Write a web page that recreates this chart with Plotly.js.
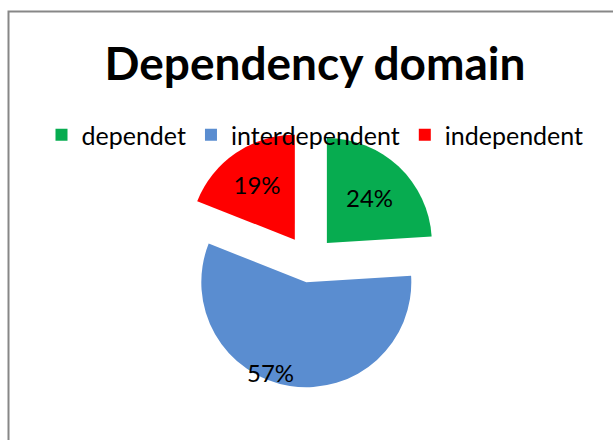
<!DOCTYPE html>
<html>
<head>
<meta charset="utf-8">
<script src="https://cdn.plot.ly/plotly-3.0.1.min.js"></script>
<style>html,body{margin:0;padding:0;background:#fff;}#chart{width:613px;height:440px;}</style>
</head>
<body>
<div id="chart"></div>
<script>
const categories = ["dependet", "interdependent", "independent"];
const values = [24, 57, 19];
const sliceColors = ["#07AC50", "#5A8DD0", "#FF0000"];
const pulls = [0.24, 0.2, 0.25];
const chartTitle = "Dependency domain";

const total = values.reduce((a, b) => a + b, 0);
const pctText = values.map(v => Math.round(100 * v / total) + "%");
// the large slice's label is drawn near its lower rim, as in the original
const insideTexts = pctText.map((t, i) => (i === 1 ? "" : t));

const trace = {
  type: "pie",
  labels: categories,
  values: values,
  sort: false,
  direction: "clockwise",
  rotation: 0,
  pull: pulls,
  marker: {colors: sliceColors, line: {width: 0}},
  text: insideTexts,
  textinfo: "text",
  textposition: "inside",
  insidetextorientation: "horizontal",
  textfont: {family: "Lato, sans-serif", size: 24, color: "#000"},
  hoverinfo: "label+percent",
  domain: {x: [0.2909, 0.7192], y: [0.1074, 0.7040]}
};

const layout = {
  width: 613, height: 440,
  margin: {l: 0, r: 0, t: 0, b: 0},
  paper_bgcolor: "#ffffff",
  title: {
    text: "<b>" + chartTitle + "</b>",
    font: {family: "Lato, sans-serif", size: 46, color: "#000"},
    x: 315 / 613, xanchor: "center", xref: "paper",
    y: 1 - 64 / 440, yanchor: "middle", yref: "container"
  },
  showlegend: true,
  legend: {
    orientation: "h",
    x: 315 / 613, xanchor: "center",
    y: 1 - 135 / 440, yanchor: "middle",
    font: {family: "Lato, sans-serif", size: 25, color: "#000"},
    bgcolor: "rgba(0,0,0,0)",
    traceorder: "normal"
  },
  annotations: [{
    text: pctText[1], xref: "paper", yref: "paper",
    x: 270 / 613, y: 1 - 372 / 440, xanchor: "center", yanchor: "middle",
    showarrow: false,
    font: {family: "Lato, sans-serif", size: 24, color: "#000"}
  }],
  shapes: [{
    type: "rect", xref: "paper", yref: "paper",
    x0: 8.5 / 613, x1: 1.05, y0: -0.05, y1: 1 - 11.5 / 440,
    line: {color: "#878787", width: 2}, fillcolor: "rgba(0,0,0,0)", layer: "above"
  }]
};

Plotly.newPlot("chart", [trace], layout, {displayModeBar: false, staticPlot: true});
</script>
</body>
</html>
